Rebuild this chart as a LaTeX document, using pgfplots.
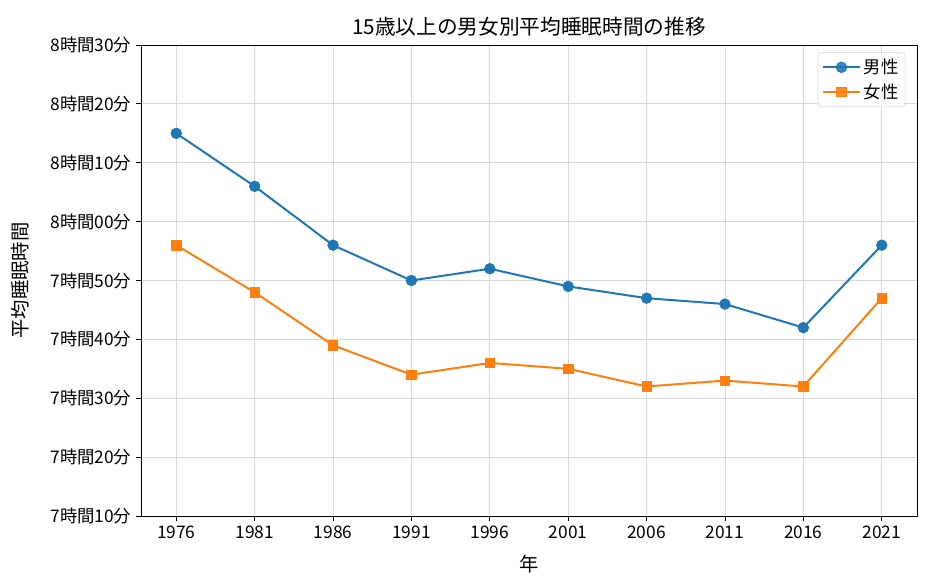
\documentclass[border=0pt]{standalone}
\usepackage{fontspec}
\setmainfont{Noto Sans CJK JP}
\usepackage{pgfplots}
\pgfplotsset{compat=1.18}
\definecolor{mplblue}{HTML}{1F77B4}
\definecolor{mplorange}{HTML}{FF7F0E}
\begin{document}
\begin{tikzpicture}[x=1pt,y=1pt]
\useasboundingbox (-105.75,-50.25) rectangle (594.75,387);
\begin{axis}[
  at={(0,0)}, anchor=south west,
  scale only axis, width=582pt, height=353.25pt,
  xmin=1973.75, xmax=2023.25,
  ymin=430, ymax=510,
  xtick={1976,1981,1986,1991,1996,2001,2006,2011,2016,2021},
  xticklabels={1976,1981,1986,1991,1996,2001,2006,2011,2016,2021},
  ytick={430,440,450,460,470,480,490,500,510},
  yticklabels={7時間10分,7時間20分,7時間30分,7時間40分,7時間50分,8時間00分,8時間10分,8時間20分,8時間30分},
  tick pos=left, tick align=outside,
  major tick length=3.75pt,
  tick style={black, line width=0.6pt},
  ticklabel style={font=\fontsize{13}{15}\selectfont},
  grid=major,
  grid style={gray!30, line width=0.6pt},
  axis line style={black, line width=0.6pt},
  title={15歳以上の男女別平均睡眠時間の推移},
  title style={font=\fontsize{15.5}{18}\selectfont, yshift=-3pt},
  xlabel={年},
  ylabel={平均睡眠時間},
  xlabel style={font=\fontsize{14.5}{16}\selectfont, yshift=-5.5pt},
  ylabel style={font=\fontsize{14.5}{16}\selectfont, yshift=9pt},
  legend style={font=\fontsize{13}{15}\selectfont, draw=gray!35, rounded corners=3pt, fill=white, fill opacity=0.9, text opacity=1, row sep=2pt, inner xsep=3pt, inner ysep=3pt, at={(0.985,0.985)}, anchor=north east},
  legend cell align=left,
  legend image code/.code={\draw[#1, line width=1.5pt] (0pt,0pt) -- (28pt,0pt); \path[#1, only marks] plot coordinates {(14pt,0pt)};},
]
\addplot[mplblue, line width=1.5pt, mark=*, mark size=4pt, mark options={solid, fill=mplblue, draw=mplblue, line width=0.5pt}] coordinates {
(1976,495) (1981,486) (1986,476) (1991,470) (1996,472) (2001,469) (2006,467) (2011,466) (2016,462) (2021,476)};
\addlegendentry{男性}
\addplot[mplorange, line width=1.5pt, mark=square*, mark size=3.5pt, mark options={solid, fill=mplorange, draw=mplorange, line width=0.5pt}] coordinates {
(1976,476) (1981,468) (1986,459) (1991,454) (1996,456) (2001,455) (2006,452) (2011,453) (2016,452) (2021,467)};
\addlegendentry{女性}
\end{axis}
\end{tikzpicture}
\end{document}
